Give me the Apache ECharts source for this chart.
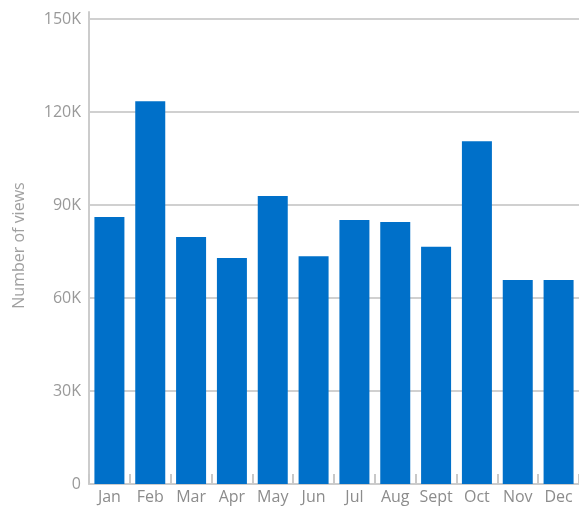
<!DOCTYPE html>
<html>
<head>
<meta charset="utf-8">
<script src="https://cdn.jsdelivr.net/npm/echarts@6/dist/echarts.min.js"></script>
<style>html,body{margin:0;padding:0;background:#fff;}#c{width:579px;height:506px;}</style>
</head>
<body>
<div id="c"></div>
<script>
const categories = ['Jan','Feb','Mar','Apr','May','Jun','Jul','Aug','Sept','Oct','Nov','Dec'];
const views = [86100, 123500, 79700, 72900, 92900, 73500, 85200, 84500, 76500, 110600, 65800, 65800];
const yTicks = [0, 30000, 60000, 90000, 120000, 150000];
const yName = 'Number of views';

const chart = echarts.init(document.getElementById('c'), null, {renderer: 'canvas'});
const fmt = v => v === 0 ? '0' : (v / 1000) + 'K';
chart.setOption({
  animation: false,
  grid: [
    {left: 89, top: 19, width: 492, height: 465, containLabel: false},
    {left: 89, top: 12, width: 492, height: 472, containLabel: false}
  ],
  xAxis: [{
    type: 'category', data: categories, gridIndex: 0,
    axisLine: {show: true, lineStyle: {color: '#cccccc', width: 2}},
    axisTick: {show: true, inside: true, length: 10, interval: 0, lineStyle: {color: '#c8c8c8', width: 2}},
    axisLabel: {color: '#8c8c8c', fontSize: 16, fontFamily: 'Open Sans', margin: 5, interval: 0}
  }, {
    type: 'category', data: categories, gridIndex: 1, show: false
  }],
  yAxis: [{
    type: 'value', gridIndex: 0, min: yTicks[0], max: yTicks[yTicks.length - 1], interval: 30000,
    name: yName, nameLocation: 'middle', nameGap: 62,
    nameTextStyle: {color: '#a0a0a0', fontSize: 16, fontFamily: 'Open Sans', padding: [0, 0, 0, 12]},
    axisLine: {show: false},
    axisTick: {show: false},
    axisLabel: {color: '#999999', fontSize: 16, fontFamily: 'Open Sans', margin: 8, formatter: fmt},
    splitLine: {show: true, lineStyle: {color: '#d0d0d0', width: 2}}
  }, {
    type: 'value', gridIndex: 1, min: 0, max: 1,
    axisLine: {show: true, lineStyle: {color: '#cccccc', width: 2}},
    axisTick: {show: false}, axisLabel: {show: false}, splitLine: {show: false}
  }],
  series: [{
    type: 'bar', data: views, xAxisIndex: 0, yAxisIndex: 0,
    barWidth: 30,
    itemStyle: {color: '#0070c9'}
  }]
});
</script>
</body>
</html>
